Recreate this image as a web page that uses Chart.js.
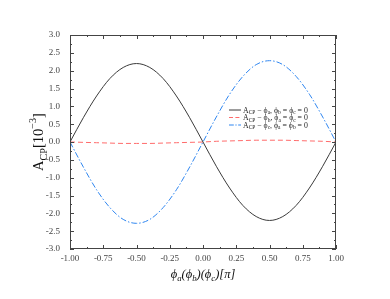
<!DOCTYPE html>
<html>
<head>
<meta charset="utf-8">
<script src="https://cdn.jsdelivr.net/npm/chart.js@4"></script>
<style>
  html, body { margin: 0; padding: 0; background: #fff; }
  #wrap { width: 390px; height: 299px; }
</style>
</head>
<body>
<div id="wrap"><canvas id="chart" width="390" height="299"></canvas></div>
<script>
// phase in units of pi
const xValues = [-1, -0.9, -0.8, -0.7, -0.6, -0.5, -0.4, -0.3, -0.2, -0.1, 0,
                 0.1, 0.2, 0.3, 0.4, 0.5, 0.6, 0.7, 0.8, 0.9, 1];
// A_CP in 10^-3
const acpPhiA = [0, 0.68, 1.29, 1.78, 2.09, 2.2, 2.09, 1.78, 1.29, 0.68, 0,
                 -0.68, -1.29, -1.78, -2.09, -2.2, -2.09, -1.78, -1.29, -0.68, 0];
const acpPhiB = [0, -0.01, -0.02, -0.03, -0.04, -0.04, -0.04, -0.03, -0.02, -0.01, 0,
                 0.02, 0.03, 0.04, 0.05, 0.05, 0.05, 0.04, 0.03, 0.02, 0];
const acpPhiC = [0, -0.7, -1.34, -1.84, -2.17, -2.28, -2.17, -1.84, -1.34, -0.7, 0,
                 0.7, 1.34, 1.84, 2.17, 2.28, 2.17, 1.84, 1.34, 0.7, 0];
const seriesLabels = [
  "ACP − ϕa, ϕb = ϕc = 0",
  "ACP − ϕb, ϕa = ϕc = 0",
  "ACP − ϕc, ϕa = ϕb = 0"
];
// rich text for legend, [text, isSub]
const legendRich = [
  [["A", 0], ["CP", 1], [" − ϕ", 0], ["a", 1], [", ϕ", 0], ["b", 1], [" = ϕ", 0], ["c", 1], [" = 0", 0]],
  [["A", 0], ["CP", 1], [" − ϕ", 0], ["b", 1], [", ϕ", 0], ["a", 1], [" = ϕ", 0], ["c", 1], [" = 0", 0]],
  [["A", 0], ["CP", 1], [" − ϕ", 0], ["c", 1], [", ϕ", 0], ["a", 1], [" = ϕ", 0], ["b", 1], [" = 0", 0]]
];
const xTickLabels = ["-1.00", "-0.75", "-0.50", "-0.25", "0.00", "0.25", "0.50", "0.75", "1.00"];
const yTickLabels = ["-3.0", "-2.5", "-2.0", "-1.5", "-1.0", "-0.5", "0.0", "0.5", "1.0", "1.5", "2.0", "2.5", "3.0"];

const SERIF = "'Liberation Serif', 'DejaVu Serif', serif";
const colors = ["#3a3a3a", "#ff6b6b", "#2f86f0"];
const dashes = [[], [5, 3], [6, 2, 1.5, 2]];

function pts(ys) {
  return xValues.map((x, i) => ({ x: x, y: ys[i] }));
}

// width of rich text
function richWidth(ctx, parts, size, italic) {
  let w = 0;
  parts.forEach(([t, sub]) => {
    ctx.font = (italic ? "italic " : "") + (sub ? size * 0.7 : size) + "px " + SERIF;
    w += ctx.measureText(t).width;
  });
  return w;
}

function drawRich(ctx, parts, x, y, size, italic, color) {
  ctx.fillStyle = color;
  ctx.textBaseline = "alphabetic";
  ctx.textAlign = "left";
  parts.forEach(([t, sub]) => {
    const s = sub ? size * 0.7 : size;
    ctx.font = (italic ? "italic " : "") + s + "px " + SERIF;
    const dy = sub === 1 ? size * 0.25 : sub === 2 ? -size * 0.45 : 0;
    ctx.fillText(t, x, y + dy);
    x += ctx.measureText(t).width;
  });
}

const framePlugin = {
  id: "frame",
  afterDraw(chart) {
    const ctx = chart.ctx;
    const a = chart.chartArea;
    const xs = chart.scales.x, ys = chart.scales.y;
    ctx.save();
    ctx.strokeStyle = "#444";
    ctx.lineWidth = 1;
    ctx.setLineDash([]);
    ctx.strokeRect(a.left + 0.5, a.top + 0.5, a.right - a.left - 1, a.bottom - a.top - 1);
    ctx.beginPath();
    // x ticks, major every 0.25, minor between
    for (let i = 0; i <= 16; i++) {
      const v = -1 + i * 0.125;
      const px = Math.round(xs.getPixelForValue(v)) + 0.5;
      const len = i % 2 === 0 ? 4 : 2;
      ctx.moveTo(px, a.bottom); ctx.lineTo(px, a.bottom - len);
      ctx.moveTo(px, a.top); ctx.lineTo(px, a.top + len);
    }
    // y ticks, major every 0.5, minor between
    for (let i = 0; i <= 24; i++) {
      const v = -3 + i * 0.25;
      const py = Math.round(ys.getPixelForValue(v)) + 0.5;
      const len = i % 2 === 0 ? 4 : 2;
      ctx.moveTo(a.left, py); ctx.lineTo(a.left + len, py);
      ctx.moveTo(a.right, py); ctx.lineTo(a.right - len, py);
    }
    ctx.stroke();

    // legend
    const lx = 229, ly = 110, rowH = 7.5;
    legendRich.forEach((parts, i) => {
      const y = ly + i * rowH;
      ctx.strokeStyle = colors[i];
      ctx.setLineDash(dashes[i].map(d => d * 0.8));
      ctx.lineWidth = 1;
      ctx.beginPath();
      ctx.moveTo(lx, y); ctx.lineTo(lx + 12, y);
      ctx.stroke();
      ctx.setLineDash([]);
      drawRich(ctx, parts, lx + 14, y + 2.5, 7.8, false, "#222");
    });

    // y title (rotated)
    const yParts = [["A", 0], ["CP", 1], ["[10", 0], ["−3", 2], ["]", 0]];
    const yw = richWidth(ctx, yParts, 14.5, false);
    ctx.save();
    ctx.translate(43, (a.top + a.bottom) / 2);
    ctx.rotate(-Math.PI / 2);
    drawRich(ctx, yParts, -yw / 2, 0, 14.5, false, "#111");
    ctx.restore();

    // x title
    const xParts = [["ϕ", 0], ["a", 1], ["(ϕ", 0], ["b", 1], [")(ϕ", 0], ["c", 1], [")[π]", 0]];
    const xw = richWidth(ctx, xParts, 12.5, true);
    drawRich(ctx, xParts, (a.left + a.right) / 2 - xw / 2, 278, 12.5, true, "#111");
    ctx.restore();
  }
};

new Chart(document.getElementById("chart"), {
  type: "line",
  data: {
    datasets: [acpPhiA, acpPhiB, acpPhiC].map((ys, i) => ({
      label: seriesLabels[i],
      data: pts(ys),
      borderColor: colors[i],
      borderWidth: 1,
      borderDash: dashes[i],
      pointRadius: 0,
      tension: 0.4,
      cubicInterpolationMode: "monotone",
      fill: false
    }))
  },
  options: {
    responsive: false,
    animation: false,
    layout: { padding: { left: 0, top: 35, right: 54, bottom: 0 } },
    plugins: { legend: { display: false }, tooltip: { enabled: false } },
    scales: {
      x: {
        type: "linear",
        min: -1, max: 1,
        afterFit(s) { s.height = 50; },
        grid: { display: false, drawTicks: false },
        border: { display: false },
        ticks: {
          stepSize: 0.25,
          padding: 4,
          maxRotation: 0,
          autoSkip: false,
          color: "#444",
          font: { family: SERIF, size: 9 },
          callback: (v) => xTickLabels[Math.round((v + 1) / 0.25)]
        }
      },
      y: {
        min: -3, max: 3,
        afterFit(s) { s.width = 70; },
        grid: { display: false, drawTicks: false },
        border: { display: false },
        ticks: {
          stepSize: 0.5,
          padding: 10,
          color: "#444",
          font: { family: SERIF, size: 9 },
          callback: (v) => yTickLabels[Math.round((v + 3) / 0.5)]
        }
      }
    }
  },
  plugins: [framePlugin]
});
</script>
</body>
</html>
